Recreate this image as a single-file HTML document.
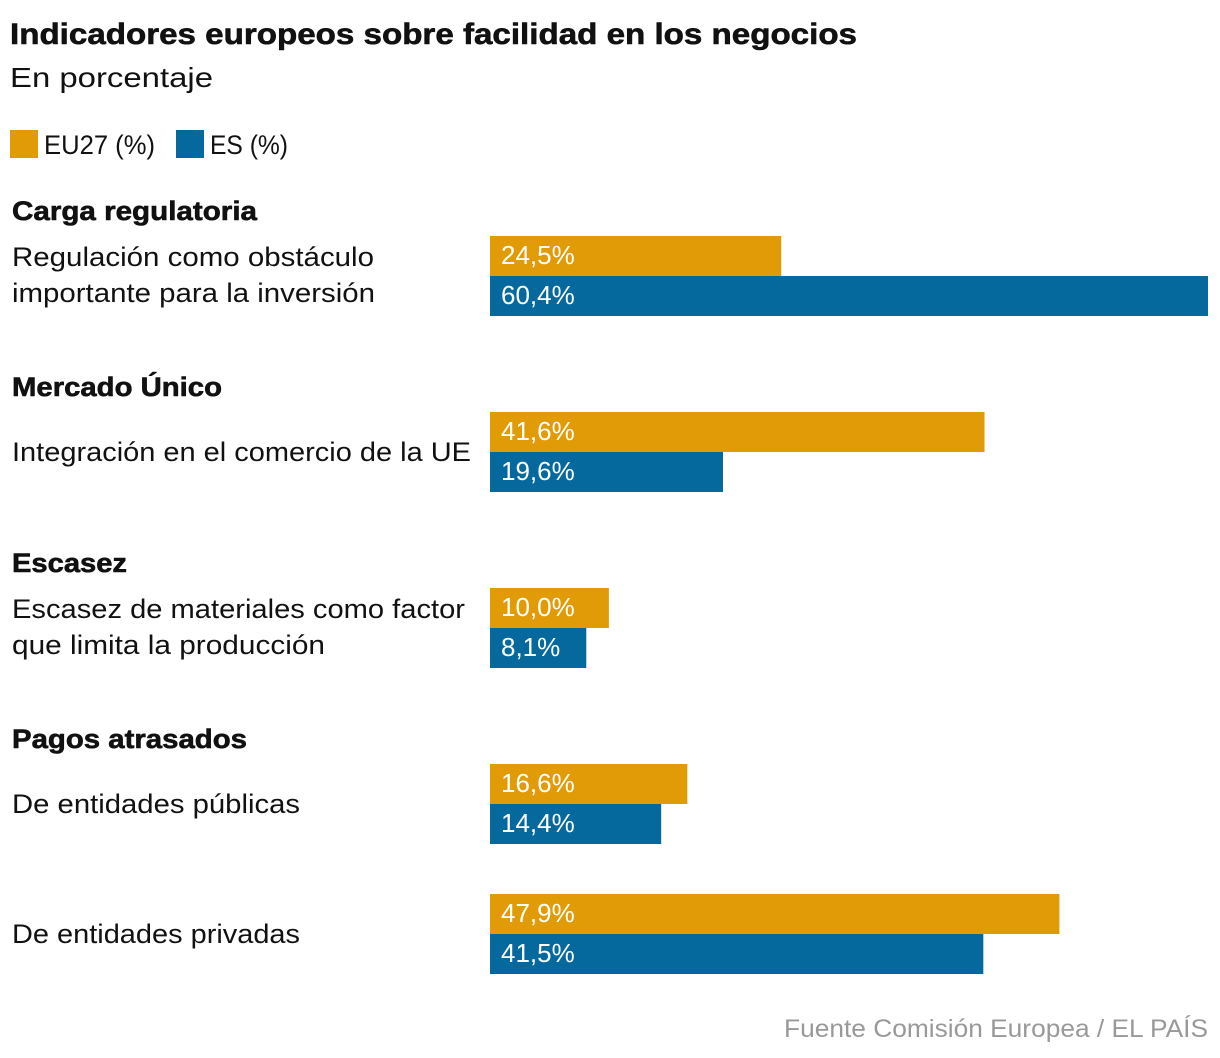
<!DOCTYPE html>
<html><head><meta charset="utf-8"><style>
html,body{margin:0;padding:0;background:#fff;}
svg{display:block;font-family:"Liberation Sans",sans-serif;}
</style></head><body>
<svg id="chart" width="1220" height="1058" viewBox="0 0 1220 1058">
<text x="10" y="44" font-size="30" font-weight="bold" fill="#111" stroke="#111" stroke-width="0.6" textLength="847" lengthAdjust="spacingAndGlyphs">Indicadores europeos sobre facilidad en los negocios</text>
<text x="10" y="87" font-size="28" fill="#111" textLength="203" lengthAdjust="spacingAndGlyphs">En porcentaje</text>
<rect x="10" y="130" width="28" height="28" fill="#e09b06"/>
<text x="44" y="154" font-size="27" fill="#111" textLength="111" lengthAdjust="spacingAndGlyphs">EU27 (%)</text>
<rect x="176" y="130" width="28" height="28" fill="#05699e"/>
<text x="210" y="154" font-size="27" fill="#111" textLength="78" lengthAdjust="spacingAndGlyphs">ES (%)</text>
<g id="content"></g>
<text x="1208" y="1037" font-size="25" fill="#999" text-anchor="end" textLength="424" lengthAdjust="spacingAndGlyphs">Fuente Comisión Europea / EL PAÍS</text>
</svg>
<script>
const sections = ["Carga regulatoria","Mercado Único","Escasez","Pagos atrasados"];
const sectionY = [220, 396, 572, 748];
const sectionWidths = [245, 210, 115, 235];
const categories = [["Regulación como obstáculo","importante para la inversión"],["Integración en el comercio de la UE"],["Escasez de materiales como factor","que limita la producción"],["De entidades públicas"],["De entidades privadas"]];
const labelWidths = [[362,363],[459],[453,313],[288],[288]];
const rowTop = [236, 412, 588, 764, 894];
const eu27 = [24.5, 41.6, 10.0, 16.6, 47.9];
const es = [60.4, 19.6, 8.1, 14.4, 41.5];
const NS="http://www.w3.org/2000/svg";
const g=document.getElementById('content');
const x0=490, pxPer=718/60.4, barH=40;
const xs=v=>v*pxPer;
const fmt=v=>v.toFixed(1).replace('.',',')+'%';
function mk(tag,attrs,text){const e=document.createElementNS(NS,tag);for(const k in attrs)e.setAttribute(k,attrs[k]);if(text!=null)e.textContent=text;g.appendChild(e);return e;}
sections.forEach((s,i)=>{
  const t=mk('text',{x:12,y:sectionY[i],'font-size':27,'font-weight':'bold',fill:'#111',stroke:'#111','stroke-width':0.6,textLength:sectionWidths[i],lengthAdjust:'spacingAndGlyphs'},s);
  
  
});
categories.forEach((lines,i)=>{
  const top=rowTop[i];
  const mid=top+barH;
  lines.forEach((ln,j)=>{
    const y = lines.length===2 ? mid-10+j*36 : mid+9;
    const t=mk('text',{x:12,y:y,'font-size':27,fill:'#111',textLength:labelWidths[i][j],lengthAdjust:'spacingAndGlyphs'},ln);
    
    
  });
  [[eu27,'#e09b06','eu27'],[es,'#05699e','es']].forEach((ser,k)=>{
    const v=ser[0][i];
    const r=mk('rect',{x:x0,y:top+k*barH,width:xs(v),height:barH,fill:ser[1]});
    
    
    const t=mk('text',{x:501,y:top+k*barH+28,'font-size':26,fill:'#fff'},fmt(v));
    
    
  });
});
</script>
</body></html>
